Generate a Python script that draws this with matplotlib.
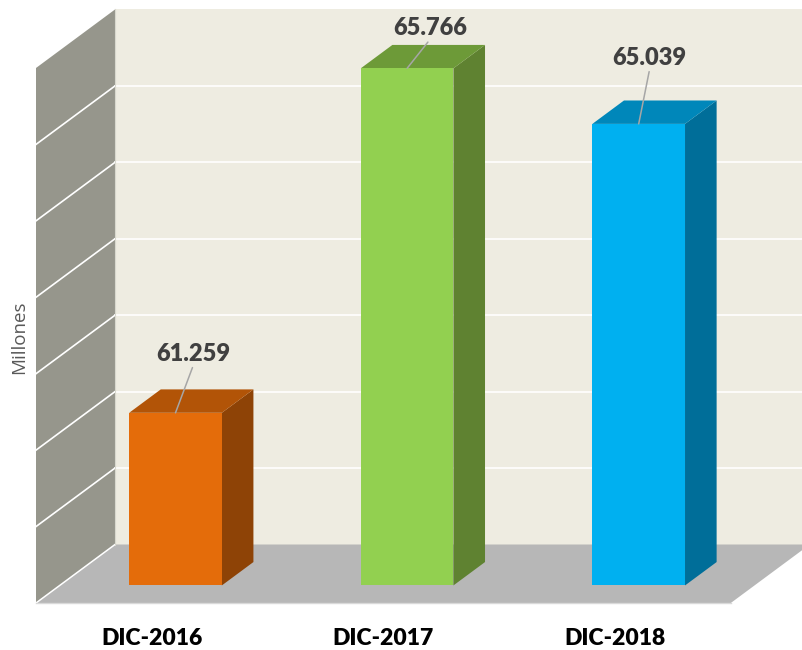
import numpy as np
import matplotlib
matplotlib.use("Agg")
import matplotlib.pyplot as plt

categories = ["DIC-2016", "DIC-2017", "DIC-2018"]
values = [61.259, 65.766, 65.039]
labels = ["61.259", "65.766", "65.039"]
grid_values = [60, 61, 62, 63, 64, 65]

front_colors = ["#E46C0A", "#92D050", "#00B0F0"]
side_colors = ["#8E4306", "#5F8231", "#006E99"]
top_colors = ["#B25407", "#6D9A38", "#0087BA"]

axis_min = 59
axis_max = 66

W, H = 802, 650
floor_y = 603
x_scale = 231.6
y_scale = 76.43
x0 = 151.8

# depth of the floor, in data units
DX = 79 / x_scale
DY = 58.5 / y_scale


def pt(x, v, d):
    return x + d * DX, v + d * DY


fig = plt.figure(figsize=(W / 100, H / 100), dpi=100)
ax = fig.add_axes([0, (H - floor_y) / H, 1, floor_y / H])
ax.set_xlim(-x0 / x_scale, (W - x0) / x_scale)
ax.set_ylim(axis_min, axis_min + floor_y / y_scale)
ax.patch.set_visible(False)
for s in ax.spines.values():
    s.set_visible(False)


def face(pts, color, z, edge=None, lw=0):
    xs = [p[0] for p in pts]
    ys = [p[1] for p in pts]
    ax.fill(xs, ys, color=color, zorder=z, ec=edge if edge else color, lw=lw, clip_on=False)


xa, xb = -0.5, 2.5

# back wall, runs off to the right edge
xr = (W - x0) / x_scale
face([pt(xa, axis_min, 1), (xr, pt(0, axis_min, 1)[1]), (xr, pt(0, axis_max, 1)[1]), pt(xa, axis_max, 1)],
     "#EEECE1", 1)
# left wall
face([pt(xa, axis_min, 0), pt(xa, axis_min, 1), pt(xa, axis_max, 1), pt(xa, axis_max, 0)], "#96968C", 1)
# floor
face([pt(xa, axis_min, 0), pt(xb, axis_min, 0), (xr, pt(0, axis_min, 0.0 + (W - x0 - (xb * x_scale)) / 79)[1]),
      (xr, pt(0, axis_min, 1)[1]), pt(xa, axis_min, 1)], "#B7B7B7", 2)

# grid
for g in grid_values:
    ax.plot([pt(xa, g, 1)[0], xr], [pt(0, g, 1)[1]] * 2, color="white", lw=1.2, zorder=3)
    ax.plot([pt(xa, g, 0)[0], pt(xa, g, 1)[0]], [pt(xa, g, 0)[1], pt(xa, g, 1)[1]], color="white", lw=1.2, zorder=3)
ax.plot([pt(xa, axis_min, 0)[0], pt(xa, axis_min, 1)[0]], [pt(xa, axis_min, 0)[1], pt(xa, axis_min, 1)[1]],
        color="white", lw=1.1, zorder=3)
ax.plot([pt(xa, axis_min, 1)[0]] * 2, [pt(xa, axis_min, 1)[1], pt(xa, axis_max, 1)[1]], color="#D8D8CE", lw=0.8, zorder=3)
ax.plot([xa, xb], [axis_min, axis_min], color="#D9D9D9", lw=1.0, zorder=3, clip_on=False)

# bars
pos = np.arange(len(values))
w = 0.4
d0, d1 = 0.3, 0.7
for i, v in enumerate(values):
    l, r = pos[i] - w / 2, pos[i] + w / 2
    fx, fy = pt(0, axis_min, d0)
    ax.bar(pos[i] + fx, v - axis_min, width=w, bottom=fy, color=front_colors[i], zorder=6)
    face([pt(r, axis_min, d0), pt(r, axis_min, d1), pt(r, v, d1), pt(r, v, d0)], side_colors[i], 5)
    face([pt(l, v, d0), pt(r, v, d0), pt(r, v, d1), pt(l, v, d1)], top_colors[i], 5)

# data labels with leader lines
label_offsets = [(18, 59), (23, 40), (11, 66)]
for i, v in enumerate(values):
    ax.annotate(labels[i], xy=pt(pos[i], v, d0), xytext=label_offsets[i], textcoords="offset pixels",
                ha="center", va="center", fontsize=17, fontweight="heavy", family="Lato", color="#404040",
                zorder=8, arrowprops=dict(arrowstyle="-", color="#A6A6A6", lw=1.1, shrinkA=0, shrinkB=0,
                                          relpos=(0.5, 0.0)))

ax.set_xticks(pos)
ax.set_xticklabels(categories, fontsize=16.5, fontweight="heavy", family="Lato", color="black")
ax.set_yticks([])
ax.tick_params(axis="x", length=0, pad=18)
ax.set_ylabel("Millones", fontsize=13.5, color="#595959", family="Open Sans")
ax.yaxis.set_label_coords(28 / W, (floor_y - 337) / floor_y)

fig.savefig("out.png", dpi=100, facecolor="white")
